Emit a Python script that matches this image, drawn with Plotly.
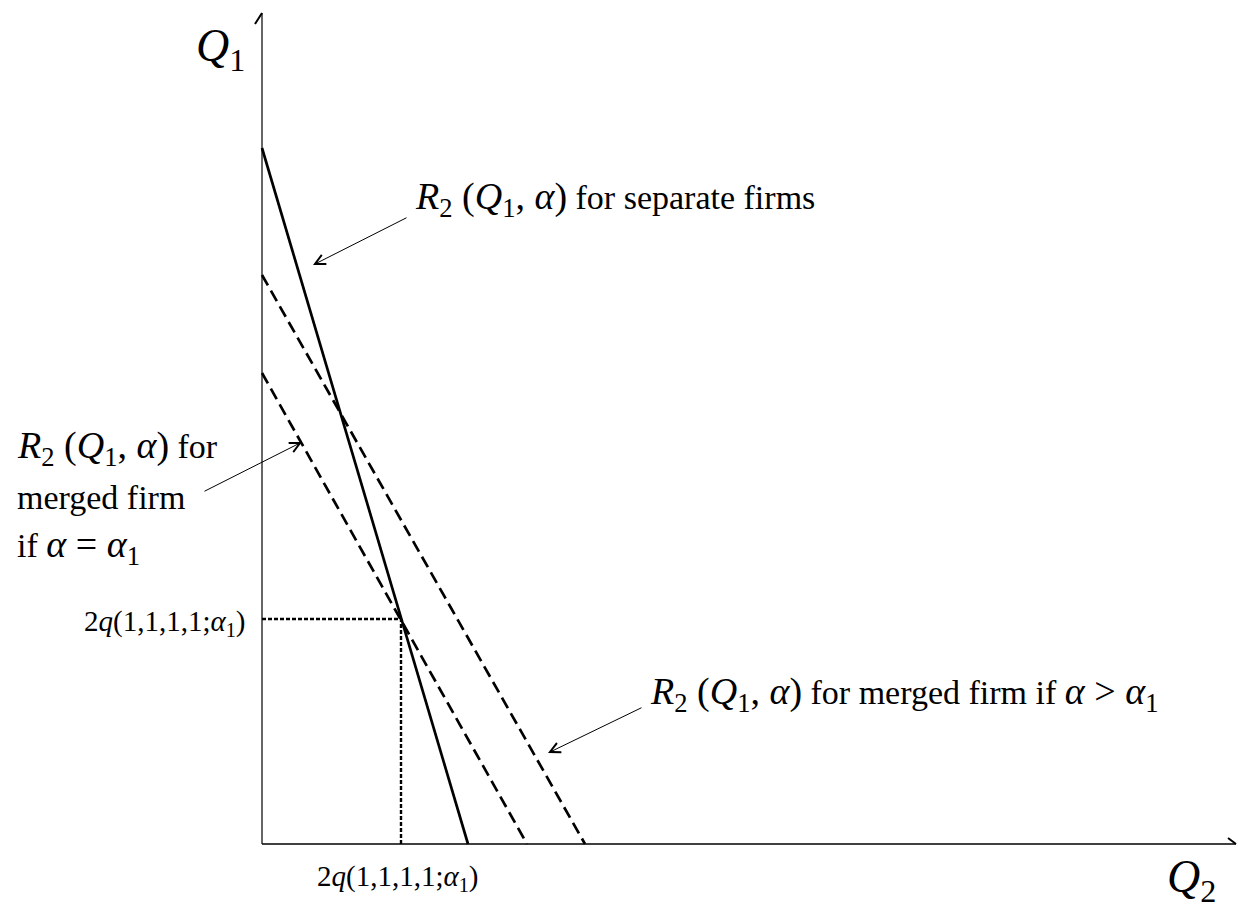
import plotly.graph_objects as go

# ---- data (units) ----
curve_names = ["R2 separate firms", "R2 merged, alpha = alpha1", "R2 merged, alpha > alpha1"]
q1_intercepts = [6.96, 4.71, 5.69]   # value of Q1 where each line meets the Q1 axis
q2_intercepts = [2.06, 2.65, 3.23]   # value of Q2 where each line meets the Q2 axis
curve_dash = ["solid", "12px,6px", "12px,6px"]

eq_q2 = 1.39   # 2q(1,1,1,1;alpha1) on the Q2 axis
eq_q1 = 2.25   # 2q(1,1,1,1;alpha1) on the Q1 axis

axis_q2_max = 9.74
axis_q1_max = 8.31

FONT = "Liberation Serif, Times New Roman, serif"

fig = go.Figure()

# axes
fig.add_trace(go.Scatter(x=[0, axis_q2_max], y=[0, 0], mode="lines",
                         line=dict(color="black", width=1.5), hoverinfo="skip"))
fig.add_trace(go.Scatter(x=[0, 0], y=[0, axis_q1_max], mode="lines",
                         line=dict(color="black", width=1.2), hoverinfo="skip"))
# axis arrow barbs
fig.add_trace(go.Scatter(x=[-0.07, 0.0], y=[axis_q1_max - 0.11, axis_q1_max], mode="lines",
                         line=dict(color="black", width=2), hoverinfo="skip"))
fig.add_trace(go.Scatter(x=[axis_q2_max - 0.08, axis_q2_max], y=[0.06, 0.0], mode="lines",
                         line=dict(color="black", width=2), hoverinfo="skip"))

# reaction functions
for name, a, b, d in zip(curve_names, q1_intercepts, q2_intercepts, curve_dash):
    fig.add_trace(go.Scatter(x=[0, b], y=[a, 0], mode="lines", name=name,
                             line=dict(color="black", width=2.7, dash=d), hoverinfo="skip"))

# dotted guides to the equilibrium
fig.add_trace(go.Scatter(x=[0, eq_q2], y=[eq_q1, eq_q1], mode="lines",
                         line=dict(color="black", width=2.4, dash="4px,2px"), hoverinfo="skip"))
fig.add_trace(go.Scatter(x=[eq_q2, eq_q2], y=[0, eq_q1], mode="lines",
                         line=dict(color="black", width=2.4, dash="4px,2px"), hoverinfo="skip"))

MATH = "<span style='font-size:38px'>{}</span>"
R2 = MATH.format("<i>R</i><sub>2</sub> (<i>Q</i><sub>1</sub>, <i>α</i>)")
EQ = "2<i>q</i>(1,1,1,1;<i>α</i><sub>1</sub>)"

annos = []
def txt(x, y, text, size=34, xanchor="left", yanchor="middle"):
    annos.append(dict(x=x, y=y, xref="x", yref="y", text=text, showarrow=False,
                      xanchor=xanchor, yanchor=yanchor,
                      font=dict(family=FONT, size=size, color="black")))

def arrow(x0, y0, x1, y1):
    annos.append(dict(x=x1, y=y1, ax=x0, ay=y0, xref="x", yref="y", axref="x", ayref="y",
                      text="", showarrow=True, arrowhead=5, arrowsize=2, arrowwidth=1,
                      arrowcolor="black", standoff=0))

txt(-0.42, 7.95, "<i>Q</i><sub>1</sub>", size=46, xanchor="center")
txt(9.29, -0.36, "<i>Q</i><sub>2</sub>", size=46, xanchor="center")

txt(1.51, 6.45, R2 + " for separate firms")
arrow(1.46, 6.27, 0.51, 5.79)

txt(-2.47, 3.96, R2 + " for")
txt(-2.47, 3.47, "merged firm")
txt(-2.47, 2.97, "if " + MATH.format("<i>α</i> = <i>α</i><sub>1</sub>"))
arrow(-0.59, 3.52, 0.40, 4.02)

txt(3.86, 1.50, R2 + " for merged firm if " + MATH.format("<i>α</i> > <i>α</i><sub>1</sub>"))
arrow(3.81, 1.37, 2.86, 0.91)

txt(-0.14, 2.21, EQ, size=29, xanchor="right")
txt(eq_q2 - 0.03, -0.34, EQ, size=29, xanchor="center")

fig.update_layout(
    width=1238, height=911,
    margin=dict(l=0, r=0, t=0, b=0),
    paper_bgcolor="white", plot_bgcolor="white",
    showlegend=False,
    xaxis=dict(range=[-2.62, 9.76], visible=False, fixedrange=True),
    yaxis=dict(range=[-0.67, 8.44], visible=False, fixedrange=True),
    annotations=annos,
)

fig.write_html("out.html", config={"displayModeBar": False},
               post_script="document.body.style.margin='0';document.body.style.overflow='hidden';")
